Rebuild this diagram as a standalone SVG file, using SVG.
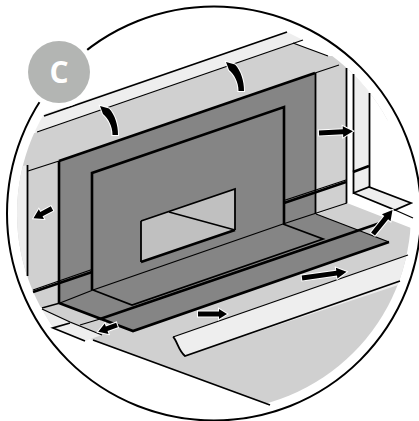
<svg xmlns="http://www.w3.org/2000/svg" width="419" height="421" viewBox="0 0 419 421">
<style>
.k{fill:none;stroke:#000;stroke-linecap:butt}
.t{stroke-width:1.3}
.m{stroke-width:1.8}
.b{stroke-width:2.6}
.d{fill:#858585}
.g{fill:#d0d0d0}
.p{fill:#eeeeee}
.w{fill:#c0c0c0}
.a{fill:#000;stroke:#fff;stroke-width:2;paint-order:stroke;stroke-linejoin:miter}
</style>
<defs>
<clipPath id="inner"><circle cx="214" cy="213.5" r="197"/></clipPath>
</defs>
<rect width="419" height="421" fill="#fff"/>
<g id="outline"><circle cx="214" cy="213.5" r="207" fill="none" stroke="#000" stroke-width="2"/></g>
<g id="scene">
<g clip-path="url(#inner)">
<path class="g" d="M0,145 L293,43 L328,56 L419,56 L347,203 L60,303 L42,308 L0,300 Z"/>
<path class="p" d="M0,172 L27,165 L27,276 L0,285 Z"/>
<path class="p" d="M20,122 L287,32 L303,40 L20,137 Z"/>
<path fill="#fff" d="M346,60 H419 V240 L412,228 L347,203 H346 Z"/>
<path class="p" d="M353,60 L369,60 L369,187 L353,193 Z"/>
<path class="g" d="M317,214 L347,203 L419,231 L419,420 L270,405 L93,340 L53,328 L42,309 L60,303 Z"/>
<path class="p" d="M42,309 L70,322 L85,341 L53,328 L35,320 Z"/>
<path class="p" d="M173,337 L419,251 L419,278 L185,356 C178,350 177,340 173,337 Z"/>
<path fill="#fff" d="M53,328 L85,341 L93,340 L270,405 L270,421 L0,421 L0,328 Z"/>
</g>
<path class="p" d="M53,328 L70,323 L102,335 L85,341 Z"/>
<path class="d" d="M59,161 L315,73 L316,214 L389,242 L133,331 L59,303 Z"/>
<path class="w" d="M141,221 L235,189 L235,230 L141,262 Z"/>
<path class="p" d="M353,193 L369,187 L411,203 L395,210 Z"/>
</g>
<g id="lines">
<path class="k m" d="M44,116 L287,32"/>
<path class="k t" d="M37,132 L303,40"/>
<path class="k t" d="M293,43 L328,56"/>
<path class="k t" d="M28,171 L59,161"/>
<path class="k t" d="M315,73 L339,65"/>
<path class="k m" d="M27.500,165 V276"/>
<path class="k b" d="M59,161 L315,73"/>
<path class="k b" d="M59,161 V303"/>
<path class="k m" d="M315.500,73 V214"/>
<path class="k b" d="M92,290 V173 L284,107 V224"/>
<path class="k b" d="M59,303 L133,331 L389,242"/>
<path class="k t" d="M316,214 L389,242"/>
<path class="k m" d="M346.500,68 V203"/>
<path class="k m" d="M353.500,74 V193 L369,187 L411,203 L395,210 L353.500,193"/>
<path class="k m" d="M369.500,93 V187"/>
<path class="k b" d="M353,172 L369,166"/>
<path class="k t" d="M395,210 L413,218"/>
<path class="k t" d="M33,290 L92,269.500"/>
<path class="k b" d="M33,292 L92,272"/>
<path class="k b" d="M284,203 L346,182"/>
<path class="k t" d="M284,200.500 L346,180"/>
<path class="k t" d="M60,303 L93,290 L283,224 L347,203"/>
<path class="k t" d="M42,308 L60,303"/>
<path class="k m" d="M93,290 L132,305 L323,239 L283,224"/>
<path class="k t" d="M134,307.500 L325,241.500"/>
<path class="k b" d="M100,319 L380,223"/>
<path class="k t" d="M80,325 L100,319"/>
<path class="k t" d="M42,309 L70,322 L102,335"/>
<path class="k m" d="M70,323 L53,328 L85,341"/>
<path class="k t" d="M173,337 L408,255"/>
<path class="k m" d="M173,337 C177,340 178,350 185,356 L400,281"/>
<path class="k m" d="M93,340 L270,405"/>
<path class="k m" d="M141,221 L235,189 V230"/>
<path class="k b" d="M235,230 L141,262"/>
<path class="k m" d="M141,262 V221"/>
<path class="k m" d="M169,212 L235,230"/>
</g>
<g id="connectors">
<path id="curved" class="a" d="M112.500,135 C112.500,126 108,118 103,114 L100,106 L109,108.500 C115,115 118,125 118,135 Z"/>
<use href="#curved" x="126" y="-44"/>
<path class="a" d="M0,-2.500 H24 V-5.500 L34,0 L24,5.500 V2.500 H0 Z" transform="translate(319,133) rotate(-3)"/>
<path class="a" d="M0,-2.500 H12 V-5.500 L21,0 L12,5.500 V2.500 H0 Z" transform="translate(52,208.500) rotate(152)"/>
<path class="a" d="M0,-2.500 H11 V-5.500 L20,0 L11,5.500 V2.500 H0 Z" transform="translate(117,325) rotate(160)"/>
<path class="a" d="M0,-2.500 H21 V-5 L29,0 L21,5 V2.500 H0 Z" transform="translate(198,314)"/>
<path class="a" d="M0,-2.500 H35 V-5.500 L45,0 L35,5.500 V2.500 H0 Z" transform="translate(302,278) rotate(-8)"/>
<path class="a" d="M0,-2.500 H21 V-5.500 L31,0 L21,5.500 V2.500 H0 Z" transform="translate(373,234) rotate(-51)"/>
</g>
<g id="badge">
<circle cx="59" cy="72" r="36" fill="#fff"/>
<circle cx="59" cy="72" r="31" fill="#b3b5b3"/>
<text x="59" y="83" text-anchor="middle" font-family="Open Sans, sans-serif" font-weight="700" font-size="30" fill="#fff">C</text>
</g>
</svg>
